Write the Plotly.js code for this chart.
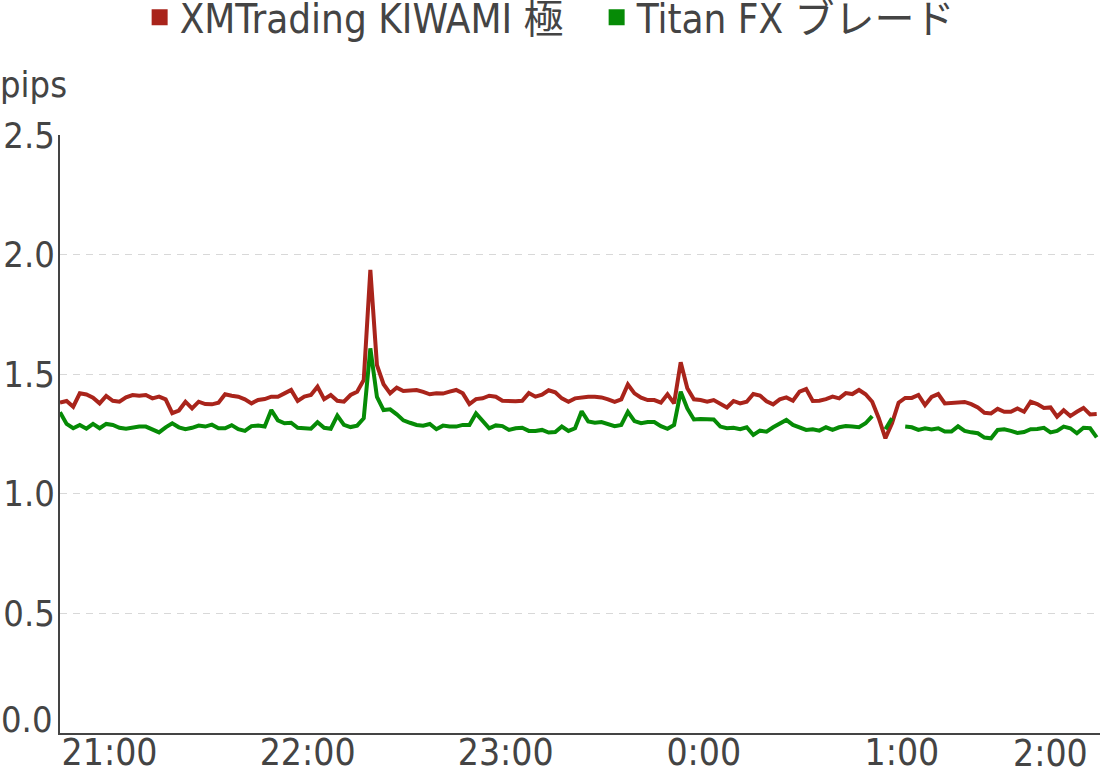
<!DOCTYPE html>
<html><head><meta charset="utf-8">
<script src="https://cdn.plot.ly/plotly-3.0.1.min.js"></script>
<style>html,body{margin:0;padding:0;background:#fff}#chart{width:1100px;height:769px}</style>
</head><body><div id="chart"></div>
<script>
const seriesNames = ["XMTrading KIWAMI 極", "Titan FX ブレード"];
const seriesColors = ["#a9241b", "#068b06"];

const times = [
"20:45","20:47","20:49","20:51","20:53","20:55","20:57","20:59",
"21:01","21:03","21:05","21:07","21:09","21:11","21:13","21:15","21:17","21:19","21:21","21:23","21:25","21:27","21:29",
"21:31","21:33","21:35","21:37","21:39","21:41","21:43","21:45","21:47","21:49","21:51","21:53","21:55","21:57","21:59",
"22:01","22:03","22:05","22:07","22:09","22:11","22:13","22:15","22:17","22:19","22:21","22:23","22:25","22:27","22:29",
"22:31","22:33","22:35","22:37","22:39","22:41","22:43","22:45","22:47","22:49","22:51","22:53","22:55","22:57","22:59",
"23:01","23:03","23:05","23:07","23:09","23:11","23:13","23:15","23:17","23:19","23:21","23:23","23:25","23:27","23:29",
"23:31","23:33","23:35","23:37","23:39","23:41","23:43","23:45","23:47","23:49","23:51","23:53","23:55","23:57","23:59",
"00:01","00:03","00:05","00:07","00:09","00:11","00:13","00:15","00:17","00:19","00:21","00:23","00:25","00:27","00:29",
"00:31","00:33","00:35","00:37","00:39","00:41","00:43","00:45","00:47","00:49","00:51","00:53","00:55","00:57","00:59",
"01:01","01:03","01:05","01:07","01:09","01:11","01:13","01:15","01:17","01:19","01:21","01:23","01:25","01:27","01:29",
"01:31","01:33","01:35","01:37","01:39","01:41","01:43","01:45","01:47","01:49","01:51","01:53","01:55","01:57","01:59"
];

const xmValues = [
1.381,1.388,1.364,1.420,1.415,1.402,1.378,1.409,1.389,1.385,1.403,1.413,1.410,1.413,1.399,1.406,1.395,1.337,1.348,1.385,1.357,1.385,1.375,1.374,1.381,1.416,1.410,
1.406,1.395,1.378,1.392,1.396,1.406,1.406,1.420,1.434,1.388,1.406,1.413,1.448,1.396,1.413,1.389,1.385,1.413,1.427,1.476,1.936,1.538,1.458,1.420,1.444,1.430,
1.434,1.434,1.426,1.416,1.420,1.419,1.427,1.434,1.420,1.375,1.396,1.399,1.410,1.406,1.389,1.387,1.387,1.389,1.421,1.406,1.414,1.433,1.424,1.399,1.385,1.399,1.404,
1.406,1.406,1.403,1.395,1.384,1.395,1.457,1.420,1.402,1.392,1.392,1.381,1.416,1.378,1.550,1.441,1.395,1.392,1.385,1.392,1.378,1.361,1.388,1.378,1.385,1.417,1.411,
1.387,1.374,1.395,1.403,1.389,1.427,1.438,1.388,1.389,1.396,1.406,1.399,1.421,1.417,1.434,1.416,1.385,1.316,1.232,1.295,1.381,1.401,1.401,1.413,1.371,1.405,
1.417,1.378,1.381,1.382,1.384,1.375,1.361,1.339,1.336,1.355,1.343,1.343,1.357,1.343,1.385,1.375,1.359,1.361,1.322,1.349,1.325,1.343,1.359,1.332,1.334
];

const titanValues = [
1.341,1.292,1.274,1.288,1.272,1.292,1.274,1.292,1.288,1.276,1.272,1.278,1.281,1.281,1.267,1.257,1.278,1.295,1.278,1.270,1.276,1.285,1.281,1.289,1.274,1.274,1.287,
1.270,1.263,1.283,1.285,1.281,1.350,1.307,1.295,1.297,1.276,1.274,1.272,1.299,1.276,1.272,1.327,1.288,1.279,1.285,1.316,1.608,1.405,1.350,1.353,1.332,1.307,
1.297,1.288,1.285,1.292,1.270,1.285,1.281,1.281,1.288,1.288,1.336,1.306,1.274,1.286,1.283,1.267,1.274,1.276,1.263,1.263,1.267,1.256,1.258,1.281,1.263,1.274,1.345,
1.302,1.297,1.300,1.292,1.283,1.288,1.343,1.304,1.295,1.300,1.300,1.283,1.272,1.288,1.427,1.357,1.311,1.313,1.313,1.311,1.281,1.274,1.276,1.270,1.278,1.246,1.264,
1.260,1.278,1.295,1.309,1.288,1.278,1.267,1.270,1.264,1.278,1.267,1.278,1.283,1.281,1.278,1.295,1.325,null,1.270,1.316,null,1.281,1.278,1.267,1.274,1.269,
1.274,1.260,1.260,1.282,1.263,1.257,1.253,1.235,1.232,1.267,1.270,1.263,1.254,1.258,1.270,1.271,1.276,1.257,1.263,1.281,1.274,1.253,1.276,1.274,1.236
];

const hourTickTimes = ["21:00","22:00","23:00","00:00","01:00"];
const hourTickLabels = ["21:00","22:00","23:00","0:00","1:00"];
const lastTickTime = "02:00";
const lastTickLabel = "2:00";
const rangeTimes = ["20:45","02:00"];
const yTickVals = [0.5, 1.0, 1.5, 2.0, 2.5];
const yZeroLabel = "0.0";
const yTitle = "pips";

function toDate(t) {
  const h = parseInt(t.slice(0, 2), 10);
  return (h >= 12 ? "2024-01-01 " : "2024-01-02 ") + t;
}

const FONT = '"DejaVu Sans Condensed", "DejaVu Sans", "Noto Sans CJK JP", sans-serif';
const TXT = "#444444";
const x = times.map(toDate);

const traces = [
  {x: x, y: xmValues, type: "scatter", mode: "lines", name: seriesNames[0], showlegend: false,
   line: {color: seriesColors[0], width: 4}, connectgaps: false},
  {x: x, y: titanValues, type: "scatter", mode: "lines", name: seriesNames[1], showlegend: false,
   line: {color: seriesColors[1], width: 4}, connectgaps: false},
  {x: [null], y: [null], type: "scatter", mode: "markers", name: seriesNames[0], showlegend: true,
   marker: {symbol: "square", size: 16, color: seriesColors[0]}},
  {x: [null], y: [null], type: "scatter", mode: "markers", name: seriesNames[1], showlegend: true,
   marker: {symbol: "square", size: 16, color: seriesColors[1]}}
];

const layout = {
  width: 1100, height: 769,
  margin: {l: 60, r: 0, t: 135, b: 36, autoexpand: false},
  paper_bgcolor: "#ffffff", plot_bgcolor: "#ffffff",
  font: {family: FONT, color: TXT, size: 36},
  showlegend: true,
  legend: {orientation: "h", xref: "paper", x: 0.516, xanchor: "center",
           yref: "paper", y: 1.197, yanchor: "middle", entrywidth: 412,
           font: {family: FONT, size: 40, color: TXT}, bgcolor: "rgba(0,0,0,0)"},
  xaxis: {type: "date", range: rangeTimes.map(toDate),
          tickvals: hourTickTimes.map(toDate), ticktext: hourTickLabels, tickangle: 0,
          showgrid: false, zeroline: false, showline: true, linecolor: "#444444", linewidth: 2,
          ticks: "", ticklabelstandoff: -14, tickfont: {family: FONT, size: 37, color: TXT}},
  yaxis: {range: [0, 2.5], tickvals: yTickVals, tickformat: ".1f",
          showgrid: true, gridcolor: "#d8d8d8", gridwidth: 1, griddash: "7px,6px",
          zeroline: false, showline: true, linecolor: "#444444", linewidth: 2,
          ticks: "", ticklabelstandoff: -4, tickfont: {family: FONT, size: 36, color: TXT}},
  annotations: [
    {text: yTitle, xref: "paper", x: 0, xanchor: "left", xshift: -62, yref: "paper", y: 1, yanchor: "bottom", yshift: 28,
     showarrow: false, font: {family: FONT, size: 36, color: TXT}},
    {text: yZeroLabel, xref: "paper", x: 0, xanchor: "right", xshift: -5, yref: "y", y: 0, yanchor: "middle", yshift: 14,
     showarrow: false, font: {family: FONT, size: 36, color: TXT}},
    {text: lastTickLabel, xref: "x", x: toDate(lastTickTime), xanchor: "right", xshift: -10, yref: "paper", y: 0, yanchor: "top", yshift: 3,
     showarrow: false, font: {family: FONT, size: 37, color: TXT}}
  ]
};

Plotly.newPlot("chart", traces, layout, {staticPlot: true, displayModeBar: false});
</script>
</body></html>
